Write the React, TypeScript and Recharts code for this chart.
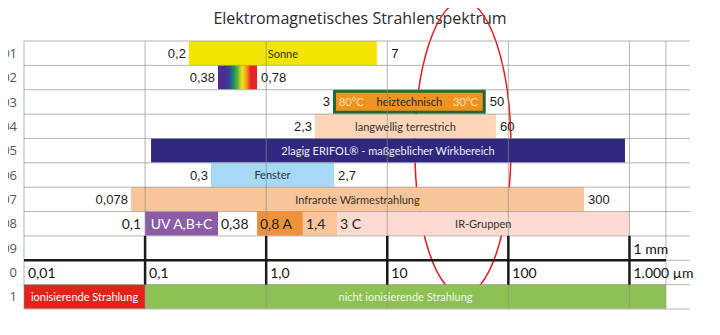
import React from 'react';
import { BarChart, Bar, XAxis, YAxis, ReferenceLine, ReferenceDot, ReferenceArea } from 'recharts';

const rows = ['01', '02', '03', '04', '05', '06', '07', '08', '09', '10', '11'];

// bar segments, wavelength range in µm
const segRows = ['01', '02', '03', '04', '05', '06', '07', '08', '08', '08', '08', '11', '11'];
const segFrom = [0.23, 0.4, 3.56, 2.53, 0.112, 0.35, 0.0765, 0.1, 0.84, 2.01, 3.85, 0.01, 0.1];
const segTo = [8.2, 0.84, 65, 79, 918, 3.63, 421, 0.4, 2.01, 3.85, 1000, 0.1, 2000];
const segNames = [
  'Sonne',
  '',
  'heiztechnisch',
  'langwellig terrestrich',
  '2lagig ERIFOL® - maßgeblicher Wirkbereich',
  'Fenster',
  'Infrarote Wärmestrahlung',
  'UV A,B+C',
  '',
  '',
  'IR-Gruppen',
  'ionisierende Strahlung',
  'nicht ionisierende Strahlung',
];

// value labels beside the bars: row, position in µm, text, which side of the position
const outerLabels: [string, number, string, 'start' | 'end'][] = [
  ['01', 0.23, '0,2', 'end'],
  ['01', 10, '7', 'start'],
  ['02', 0.4, '0,38', 'end'],
  ['02', 0.84, '0,78', 'start'],
  ['03', 3.56, '3', 'end'],
  ['03', 65, '50', 'start'],
  ['04', 2.53, '2,3', 'end'],
  ['04', 79, '60', 'start'],
  ['06', 0.35, '0,3', 'end'],
  ['06', 3.63, '2,7', 'start'],
  ['07', 0.0765, '0,078', 'end'],
  ['07', 421, '300', 'start'],
];
const uvLabels: [string, number, string, 'start' | 'end'][] = [
  ['08', 0.1, '0,1', 'end'],
  ['08', 0.4, '0,38', 'start'],
  ['08', 0.84, '0,8 A', 'start'],
  ['08', 2.01, '1,4', 'start'],
  ['08', 3.85, '3 C', 'start'],
];
const tempLabels: [string, number, string, 'start' | 'end'][] = [
  ['03', 3.56, '80°C', 'start'],
  ['03', 65, '30°C', 'end'],
];
const scaleValues = [0.01, 0.1, 1, 10, 100, 1000];
const scaleTexts = ['0,01', '0,1', '1,0', '10', '100', '1.000 µm'];
const gridValues = [0.01, 0.1, 1, 10, 100, 1000, 2000];

// the red ring: µm range and row span (0 = top of row 01)
const ringFrom = 16.9;
const ringTo = 105;
const ringTop = 0.53;
const ringBottom = 11.49;

const segColors = ['#f2e500', 'url(#spectrum)', '#ef931f', '#fcd5b8', '#30287f', '#a6d9f4', '#f8c49a', '#8c5ca9', '#f0913e', '#f9c59d', '#fbdad1', '#e2231a', '#8dc154'];
const segTextColors = ['#333', '', '#2a2a2a', '#333', '#eeecf8', '#333', '#333', '#fff', '', '', '#333', '#fff', '#eef6e4'];
const segFontSizes = [11, 11, 11, 11, 11, 11, 11, 14, 11, 11, 11, 11, 11];

const data = rows.map((row) => {
  const entry: Record<string, any> = { row };
  let k = 0;
  segRows.forEach((r, i) => {
    if (r === row) {
      entry[`s${k}`] = [segFrom[i], segTo[i]];
      entry[`i${k}`] = i;
      k++;
    }
  });
  return entry;
});

const makeShape = (k: number) => (props: any) => {
  const { x, y, width, height, payload } = props;
  const i = payload ? payload[`i${k}`] : undefined;
  if (i === undefined || !isFinite(width) || !isFinite(x)) return null;
  const framed = segRows[i] === '03';
  return (
    <g>
      {framed ? (
        <rect x={x + 1.5} y={y + 1.5} width={width - 3} height={height - 3} fill={segColors[i]} stroke="#1f6a34" strokeWidth={3} />
      ) : (
        <rect x={x} y={y} width={width} height={height} fill={segColors[i]} />
      )}
      {segNames[i] ? (
        <text
          x={x + width / 2}
          y={y + height / 2}
          textAnchor="middle"
          dominantBaseline="central"
          fill={segTextColors[i]}
          fontFamily="Lato"
          fontSize={segFontSizes[i]}
        >
          {segNames[i]}
        </text>
      ) : null}
    </g>
  );
};

const Txt = (props: any) => {
  const { viewBox, text, side, pad, size, family, color } = props;
  if (!viewBox) return null;
  const x = viewBox.x + (side === 'start' ? pad : -pad);
  return (
    <text x={x} y={viewBox.y + viewBox.height / 2} textAnchor={side} dominantBaseline="central" fontFamily={family} fontSize={size} fill={color}>
      {text}
    </text>
  );
};

const Ring = (p: any) => (
  <ellipse cx={p.x + p.width / 2} cy={p.y + p.height / 2} rx={p.width / 2} ry={p.height / 2} fill="none" stroke="#e3191f" strokeWidth={1.5} />
);

const gridStroke = '#8c8c8c';

export default function App() {
  return (
    <div style={{ position: 'relative', width: 720, height: 335, margin: '-8px 0 0 -8px' }}>
      <div
        style={{
          position: 'absolute',
          top: 8,
          left: 0,
          width: 720,
          textAlign: 'center',
          fontFamily: 'Open Sans',
          fontSize: 16,
          lineHeight: '20px',
          color: '#2b2b2b',
        }}
      >
        Elektromagnetisches Strahlenspektrum
      </div>
      <BarChart
        width={720}
        height={335}
        data={data}
        layout="vertical"
        margin={{ top: 41, right: 30, bottom: 26, left: 0 }}
        barGap={-24}
      >
        <defs>
          <linearGradient id="spectrum" x1="0" y1="0" x2="1" y2="0">
            <stop offset="0%" stopColor="#5a2a8c" />
            <stop offset="18%" stopColor="#4a2d93" />
            <stop offset="30%" stopColor="#2b4aa0" />
            <stop offset="42%" stopColor="#1e9a4c" />
            <stop offset="50%" stopColor="#5cb043" />
            <stop offset="62%" stopColor="#f4e41c" />
            <stop offset="73%" stopColor="#f39a1e" />
            <stop offset="84%" stopColor="#e3262b" />
            <stop offset="100%" stopColor="#e3262b" />
          </linearGradient>
        </defs>
        <XAxis type="number" scale="log" domain={[0.01, 3162]} allowDataOverflow hide />
        <YAxis
          type="category"
          dataKey="row"
          width={24}
          axisLine={false}
          tickLine={false}
          tickMargin={1}
          interval={0}
          tick={{ fill: '#555', fontSize: 13, fontFamily: 'Open Sans' }}
        />
        <YAxis yAxisId="e" type="number" domain={[0, 11]} reversed hide allowDataOverflow />
        {[0, 1, 2, 3].map((k) => (
          <Bar key={k} dataKey={`s${k}`} barSize={24} isAnimationActive={false} shape={makeShape(k)} />
        ))}
        {gridValues.map((v) => (
          <ReferenceLine key={`gx${v}`} x={v} stroke={gridStroke} strokeOpacity={0.65} ifOverflow="visible" />
        ))}
        {rows.map((r) => (
          <ReferenceLine key={`gy${r}`} y={r} position="start" stroke={gridStroke} strokeOpacity={0.65} ifOverflow="visible" />
        ))}
        <ReferenceLine y="11" position="end" stroke={gridStroke} strokeOpacity={0.65} ifOverflow="visible" />
        {scaleValues.slice(1).map((v) => (
          <ReferenceLine
            key={`tx${v}`}
            segment={[{ x: v, y: '09' }, { x: v, y: '11' }]}
            position="start"
            stroke="#1a1a1a"
            strokeWidth={2.5}
            ifOverflow="visible"
          />
        ))}
        <ReferenceLine
          segment={[{ x: 0.01, y: '10' }, { x: 2000, y: '10' }]}
          position="start"
          stroke="#1a1a1a"
          strokeWidth={2.5}
          ifOverflow="visible"
        />
        {outerLabels.map(([row, at, text, side]) => (
          <ReferenceDot
            key={`o${row}${text}`}
            x={at}
            y={row}
            r={0}
            fill="none"
            stroke="none"
            ifOverflow="visible"
            label={<Txt text={text} side={side} pad={side === 'start' ? 4 : 3} size={13} family="Liberation Sans" color="#1a1a1a" />}
          />
        ))}
        {uvLabels.map(([row, at, text, side]) => (
          <ReferenceDot
            key={`u${text}`}
            x={at}
            y={row}
            r={0}
            fill="none"
            stroke="none"
            ifOverflow="visible"
            label={<Txt text={text} side={side} pad={side === 'start' ? 3 : 4} size={14} family="Lato" color="#222" />}
          />
        ))}
        {tempLabels.map(([row, at, text, side]) => (
          <ReferenceDot
            key={`t${text}`}
            x={at}
            y={row}
            r={0}
            fill="none"
            stroke="none"
            ifOverflow="visible"
            label={<Txt text={text} side={side} pad={side === 'start' ? 6 : 8} size={11} family="Lato" color="#fde0b2" />}
          />
        ))}
        {scaleValues.map((v, i) => (
          <ReferenceDot
            key={`s${v}`}
            x={v}
            y="10"
            r={0}
            fill="none"
            stroke="none"
            ifOverflow="visible"
            label={<Txt text={scaleTexts[i]} side="start" pad={4} size={14} family="Lato" color="#111" />}
          />
        ))}
        <ReferenceDot
          x={1000}
          y="09"
          r={0}
          fill="none"
          stroke="none"
          ifOverflow="visible"
          label={<Txt text="1 mm" side="start" pad={4} size={14} family="Lato" color="#111" />}
        />
        <ReferenceArea
          yAxisId="e"
          x1={ringFrom}
          x2={ringTo}
          y1={ringTop}
          y2={ringBottom}
          ifOverflow="visible"
          shape={<Ring />}
        />
      </BarChart>
    </div>
  );
}
